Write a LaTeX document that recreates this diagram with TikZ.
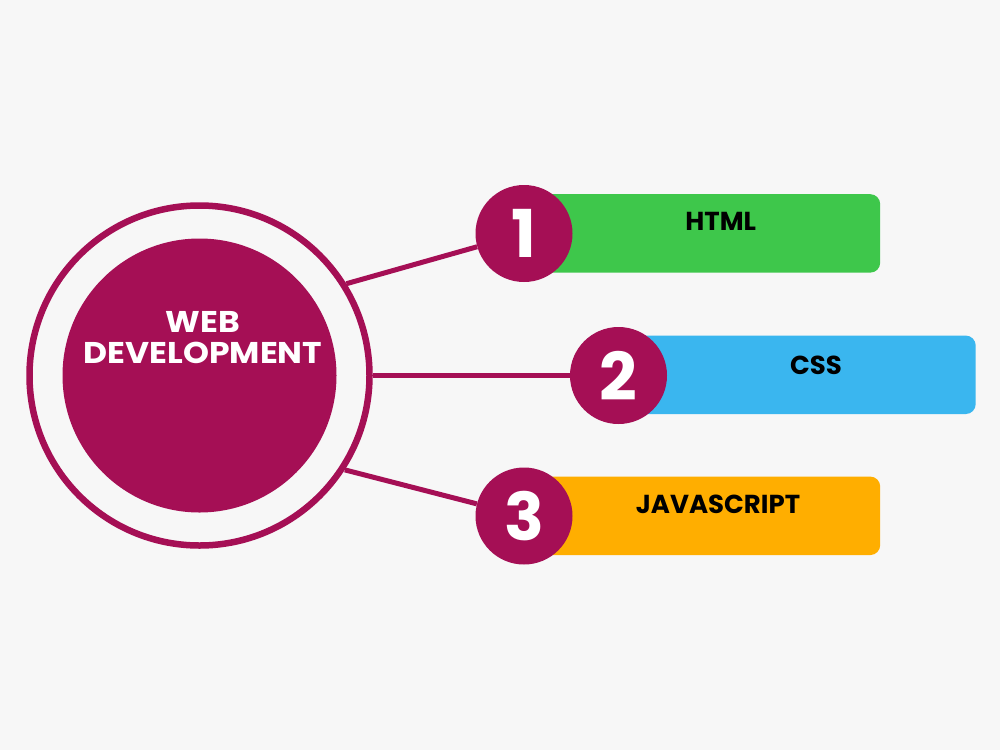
\documentclass[tikz,border=0pt]{standalone}
\usepackage{fontspec}
\setmainfont{Poppins}
\newfontfamily\widefont[FakeStretch=1.1]{Poppins}
\definecolor{bg}{HTML}{F7F7F7}
\definecolor{mag}{HTML}{A50F55}
\definecolor{grn}{HTML}{3EC74B}
\definecolor{blu}{HTML}{3AB6EF}
\definecolor{org}{HTML}{FFAE00}
\begin{document}
\begin{tikzpicture}[x=1pt,y=-1pt,
  numc/.style={circle,fill=mag,minimum size=97pt,inner sep=0pt,text=white,font=\fontsize{66}{66}\selectfont\bfseries},
  barbox/.style={rounded corners=10pt,minimum width=356pt,minimum height=78.5pt,anchor=west,inner sep=0pt},
  lbl/.style={font=\fontsize{26}{26}\selectfont\bfseries,text=black,inner sep=0pt},
  conn/.style={draw=mag,line width=5pt}]
\fill[bg] (0,0) rectangle (1000,750);
\useasboundingbox (0,0) rectangle (1000,750);
% central hub
\node[circle,draw=mag,line width=6.5pt,minimum size=340pt,inner sep=0pt] (ring) at (199.5,375.5) {};
\node[circle,fill=mag,minimum size=274pt,inner sep=0pt] (core) at (199.5,375.5) {};
\node[text=white,font=\widefont\fontsize{30}{31}\selectfont\bfseries,align=center,inner sep=0pt] (title) at (203,337.5) {WEB\\DEVELOPMENT};
% bars
\node[barbox,fill=grn] (b1) at (524,233.4) {};
\node[barbox,fill=blu,minimum width=357pt] (b2) at (618.5,374.8) {};
\node[barbox,fill=org] (b3) at (524,515.8) {};
% number circles
\node[numc] (c1) at (524,233.5) {1};
\node[numc] (c2) at (618.5,375.5) {2};
\node[numc] (c3) at (524,516) {3};
% labels
\node[lbl] (l1) at (720.7,221.7) {HTML};
\node[lbl] (l2) at (816,365) {CSS};
\node[lbl] (l3) at (718,504) {JAVASCRIPT};
% connectors
\draw[conn] (ring.32) -- (c1);
\draw[conn] (ring.east) -- (c2);
\draw[conn] (ring.-33) -- (c3);
\end{tikzpicture}
\end{document}
